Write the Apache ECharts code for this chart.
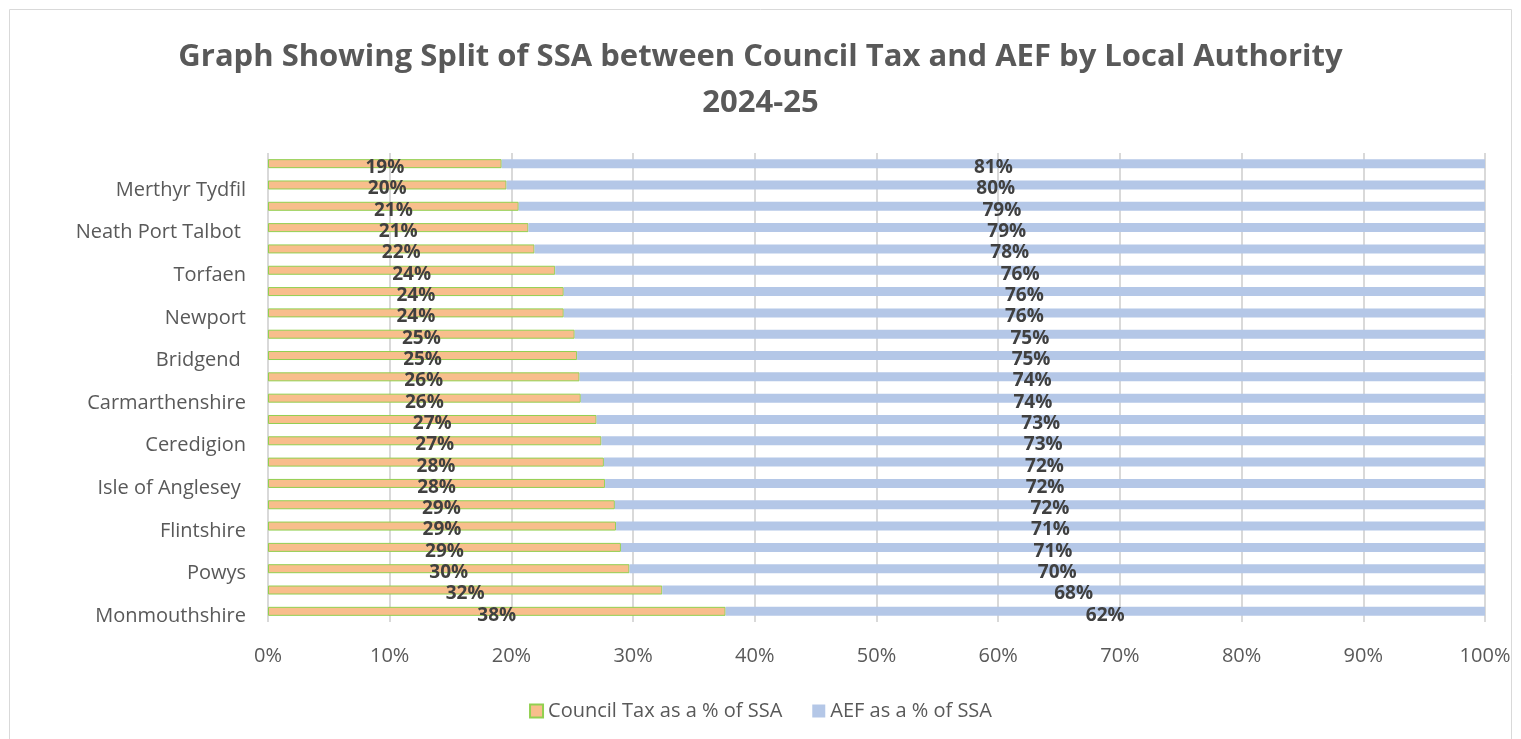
<!DOCTYPE html>
<html>
<head>
<meta charset="utf-8">
<script src="https://cdn.jsdelivr.net/npm/echarts@6/dist/echarts.min.js"></script>
<style>
  html, body { margin: 0; padding: 0; background: #fff; }
  #chart { width: 1521px; height: 739px; }
</style>
</head>
<body>
<div id="chart"></div>
<script>
// bottom to top, as the axis draws them
var authorities = ['Monmouthshire', 'Vale of Glamorgan', 'Powys', 'Cardiff', 'Flintshire', 'Pembrokeshire',
  'Isle of Anglesey ', 'Conwy', 'Ceredigion', 'Wrexham', 'Carmarthenshire', 'Gwynedd', 'Bridgend ',
  'Swansea', 'Newport', 'Denbighshire', 'Torfaen', 'Caerphilly', 'Neath Port Talbot ',
  'Rhondda Cynon Taf', 'Merthyr Tydfil', 'Blaenau Gwent']
var councilTax = [37.6, 32.4, 29.7, 29.0, 28.6, 28.5, 27.7, 27.6, 27.4, 27.0, 25.7, 25.6, 25.4,
  25.2, 24.3, 24.3, 23.6, 21.9, 21.4, 20.6, 19.6, 19.2]
var aef = [62.4, 67.6, 70.3, 71.0, 71.4, 71.5, 72.3, 72.4, 72.6, 73.0, 74.3, 74.4, 74.6,
  74.8, 75.7, 75.7, 76.4, 78.1, 78.6, 79.4, 80.4, 80.8]
var xTicks = [0, 10, 20, 30, 40, 50, 60, 70, 80, 90, 100]

var font = '"Open Sans", sans-serif'
var pct = function (p) { return Math.round(p.value) + '%' }
var labelStyle = {
  show: true,
  position: 'inside',
  formatter: pct,
  color: '#404040',
  fontFamily: font,
  fontWeight: 'bold',
  fontSize: 19,
  offset: [0, 4]
}

var chart = echarts.init(document.getElementById('chart'))
chart.setOption({
  animation: false,
  textStyle: { fontFamily: font },
  title: {
    text: 'Graph Showing Split of SSA between Council Tax and AEF by Local Authority\n2024-25',
    left: 'center',
    top: 29,
    textStyle: { fontSize: 31, fontWeight: 'bold', color: '#595959', lineHeight: 46, fontFamily: font }
  },
  graphic: [{
    type: 'rect',
    shape: { x: 9.5, y: 9.5, width: 1502, height: 740 },
    style: { fill: 'none', stroke: '#d9d9d9', lineWidth: 1 },
    silent: true
  }],
  legend: {
    bottom: 13,
    left: 'center',
    itemWidth: 13,
    itemHeight: 13,
    itemGap: 30,
    textStyle: { fontSize: 20, color: '#595959', fontFamily: font },
    data: [
      { name: 'Council Tax as a % of SSA', icon: 'rect' },
      { name: 'AEF as a % of SSA', icon: 'rect' }
    ]
  },
  grid: { left: 268, right: 36, top: 153, bottom: 117 },
  xAxis: {
    type: 'value',
    min: xTicks[0],
    max: xTicks[xTicks.length - 1],
    interval: 10,
    axisLine: { show: false },
    axisTick: { show: false },
    axisLabel: { formatter: '{value}%', fontSize: 20, color: '#595959', margin: 24, fontFamily: font },
    splitLine: { lineStyle: { color: '#d9d9d9', width: 2 } }
  },
  yAxis: {
    type: 'category',
    data: authorities,
    axisLine: { show: false },
    axisTick: { show: false },
    axisLabel: {
      interval: 1,
      margin: 22,
      formatter: function (v) { return '{n|' + v + '}' },
      rich: {
        n: { fontSize: 20, color: '#595959', fontFamily: font, padding: [10, 0, 0, 0] }
      }
    }
  },
  series: [
    {
      name: 'Council Tax as a % of SSA',
      type: 'bar',
      stack: 'ssa',
      barWidth: 9,
      data: councilTax,
      itemStyle: { color: '#F8BE8C', borderColor: '#92D050', borderWidth: 1 },
      label: labelStyle
    },
    {
      name: 'AEF as a % of SSA',
      type: 'bar',
      stack: 'ssa',
      barWidth: 9,
      data: aef,
      itemStyle: { color: '#B4C7E7' },
      label: labelStyle
    }
  ]
})
</script>
</body>
</html>
